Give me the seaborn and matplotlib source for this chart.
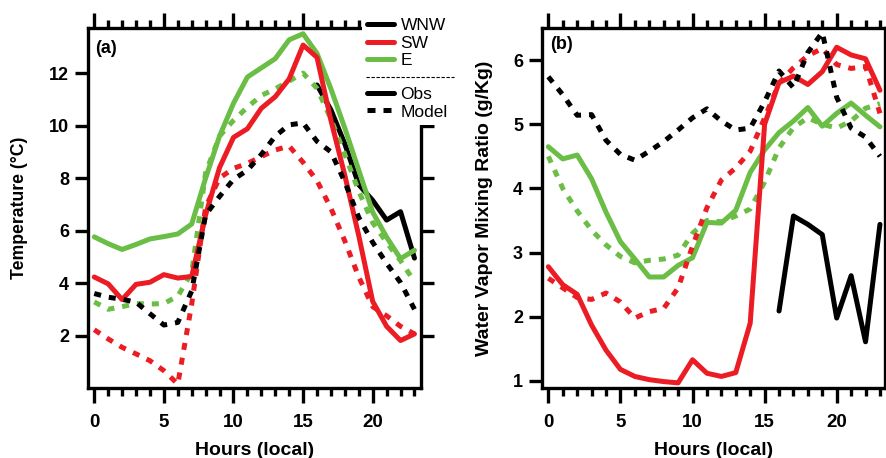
import numpy as np
import pandas as pd
import matplotlib
matplotlib.use("Agg")
import matplotlib.pyplot as plt
from matplotlib.lines import Line2D
from matplotlib.ticker import MultipleLocator
import seaborn as sns

# ---------------------------------------------------------------- data
hours = list(range(24))
wnw_hours = list(range(16, 24))   # WNW observations only exist late in the day

# (a) temperature, deg C
temp_wnw_obs = [11.55, 10.6, 9.3, 7.75, 7.15, 6.4, 6.72, 4.95]
temp_sw_obs = [4.23, 3.97, 3.37, 3.95, 4.03, 4.32, 4.19, 4.25, 6.6, 8.4, 9.55, 9.88,
               10.66, 11.1, 11.78, 13.07, 12.6, 10.2, 8.1, 5.8, 3.3, 2.35, 1.81, 2.06]
temp_e_obs = [5.76, 5.5, 5.28, 5.47, 5.68, 5.77, 5.87, 6.25, 8.0, 9.6, 10.85, 11.85,
              12.2, 12.55, 13.27, 13.5, 12.75, 11.4, 9.9, 8.3, 6.7, 5.75, 4.93, 5.25]
temp_wnw_mod = [3.6, 3.46, 3.38, 3.27, 2.83, 2.4, 2.5, 3.7, 6.6, 7.3, 7.95, 8.3,
                8.9, 9.6, 10.03, 10.1, 9.4, 9.0, 7.85, 6.5, 5.55, 4.75, 4.02, 3.0]
temp_sw_mod = [2.22, 1.87, 1.55, 1.3, 1.04, 0.66, 0.15, 3.2, 6.9, 8.0, 8.37, 8.56,
               8.82, 9.07, 9.22, 8.6, 7.9, 6.85, 5.6, 4.23, 3.1, 2.75, 2.35, 2.06]
temp_e_mod = [3.28, 3.0, 3.1, 3.22, 3.2, 3.22, 3.5, 4.4, 8.2, 9.6, 10.2, 10.7,
              11.15, 11.4, 11.7, 12.0, 11.42, 10.25, 8.9, 7.5, 6.3, 5.55, 4.85, 4.05]

# (b) water vapour mixing ratio, g/kg
wv_wnw_obs = [2.09, 3.57, 3.44, 3.28, 1.98, 2.64, 1.61, 3.44]
wv_sw_obs = [2.78, 2.5, 2.35, 1.87, 1.48, 1.18, 1.07, 1.02, 0.99, 0.97, 1.33, 1.12,
             1.07, 1.13, 1.9, 5.0, 5.65, 5.75, 5.62, 5.82, 6.2, 6.08, 6.02, 5.53]
wv_e_obs = [4.65, 4.46, 4.52, 4.15, 3.63, 3.17, 2.9, 2.62, 2.62, 2.8, 2.92, 3.47,
            3.46, 3.66, 4.25, 4.6, 4.87, 5.05, 5.26, 4.97, 5.17, 5.33, 5.14, 4.96]
wv_wnw_mod = [5.74, 5.46, 5.14, 5.15, 4.75, 4.53, 4.44, 4.58, 4.73, 4.91, 5.1, 5.24,
              5.05, 4.91, 4.94, 5.35, 5.83, 5.57, 6.12, 6.43, 5.42, 4.94, 4.8, 4.5]
wv_sw_mod = [2.6, 2.45, 2.3, 2.27, 2.37, 2.23, 1.98, 2.08, 2.13, 2.45, 3.1, 3.7,
             4.13, 4.32, 4.58, 5.1, 5.64, 5.88, 6.07, 6.18, 5.93, 5.87, 5.9, 5.17]
wv_e_mod = [4.5, 4.0, 3.65, 3.35, 3.12, 2.94, 2.84, 2.88, 2.9, 2.96, 3.3, 3.5,
            3.48, 3.57, 3.68, 4.1, 4.63, 4.95, 5.1, 5.0, 4.94, 5.05, 5.25, 5.32]

temp_ticks = [2, 4, 6, 8, 10, 12]
wv_ticks = [1, 2, 3, 4, 5, 6]

# ---------------------------------------------------------------- styling
sns.set_theme(style="ticks")
plt.rcParams["font.family"] = ["Liberation Sans", "DejaVu Sans"]
plt.rcParams["font.weight"] = "bold"
plt.rcParams["axes.labelweight"] = "bold"
plt.rcParams["text.color"] = "black"
plt.rcParams["axes.labelcolor"] = "black"

colors = {"WNW": "#000000", "SW": "#ec1c24", "E": "#6abd45"}
LW = 3.6
DOTTED = (0, (1.4, 1.6))
styles = {"Obs": "-", "Model": DOTTED}
# drawing order, bottom to top
draw_order = [("WNW", "Obs"), ("E", "Model"), ("E", "Obs"),
              ("SW", "Model"), ("SW", "Obs"), ("WNW", "Model")]


def long_frame(series):
    rows = []
    for (direction, source), (hrs, vals) in series.items():
        for h, v in zip(hrs, vals):
            rows.append({"hour": h, "value": v, "direction": direction, "source": source})
    return pd.DataFrame(rows)


temp_df = long_frame({
    ("WNW", "Obs"): (wnw_hours, temp_wnw_obs),
    ("SW", "Obs"): (hours, temp_sw_obs),
    ("E", "Obs"): (hours, temp_e_obs),
    ("WNW", "Model"): (hours, temp_wnw_mod),
    ("SW", "Model"): (hours, temp_sw_mod),
    ("E", "Model"): (hours, temp_e_mod),
})
wv_df = long_frame({
    ("WNW", "Obs"): (wnw_hours, wv_wnw_obs),
    ("SW", "Obs"): (hours, wv_sw_obs),
    ("E", "Obs"): (hours, wv_e_obs),
    ("WNW", "Model"): (hours, wv_wnw_mod),
    ("SW", "Model"): (hours, wv_sw_mod),
    ("E", "Model"): (hours, wv_e_mod),
})

W, H = 887, 458
fig = plt.figure(figsize=(W / 100, H / 100), dpi=100)
ax_a = fig.add_axes([88 / W, 70 / H, 333 / W, 360 / H])
ax_b = fig.add_axes([541.7 / W, 70 / H, 343.3 / W, 360 / H])


def draw_panel(ax, df):
    for direction, source in draw_order:
        sub = df[(df["direction"] == direction) & (df["source"] == source)]
        sns.lineplot(data=sub, x="hour", y="value", ax=ax, color=colors[direction],
                     linewidth=LW, linestyle=styles[source], estimator=None,
                     sort=True, legend=False)


def style_axes(ax, yticks):
    ax.xaxis.set_major_locator(MultipleLocator(5))
    ax.xaxis.set_minor_locator(MultipleLocator(1))
    ax.set_yticks(yticks)
    ax.tick_params(axis="x", which="major", direction="out", length=10.5, width=2.4,
                   top=True, bottom=True, labeltop=False, pad=8, labelsize=13.5,
                   color="black", labelcolor="black")
    ax.tick_params(axis="x", which="minor", direction="out", length=6, width=2.4,
                   top=True, bottom=True, color="black")
    ax.tick_params(axis="y", which="major", direction="out", length=9.5, width=2.4,
                   left=True, right=True, labelright=False, pad=4, labelsize=13,
                   color="black", labelcolor="black")
    ax.tick_params(axis="y", which="minor", left=False, right=False)
    for sp in ax.spines.values():
        sp.set_visible(True)
        sp.set_linewidth(2.4)
        sp.set_color("black")
    ax.grid(False)
    ax.set_facecolor("white")


draw_panel(ax_a, temp_df)
draw_panel(ax_b, wv_df)
style_axes(ax_a, temp_ticks)
style_axes(ax_b, wv_ticks)

ax_a.set_xlim(-0.45, 23.47)
ax_a.set_ylim(0, 13.72)
ax_b.set_xlim(-0.46, 23.35)
ax_b.set_ylim(0.89, 6.5)

ax_a.set_xlabel("Hours (local)", fontsize=14, fontweight="bold")
ax_b.set_xlabel("Hours (local)", fontsize=14, fontweight="bold")
ax_a.set_ylabel("Temperature (\u00b0C)", fontsize=12.7, fontweight="bold")
ax_b.set_ylabel("Water Vapor Mixing Ratio (g/Kg)", fontsize=14, fontweight="bold")
ax_a.xaxis.set_label_coords(0.5, -0.15)
ax_b.xaxis.set_label_coords(0.5, -0.15)
ax_a.yaxis.set_label_coords(-0.18, 0.5)
ax_b.yaxis.set_label_coords(-0.142, 0.5)

ax_a.text(0.021, 0.944, "(a)", transform=ax_a.transAxes, ha="left", va="center",
          fontsize=13, fontweight="bold")
ax_b.text(0.024, 0.953, "(b)", transform=ax_b.transAxes, ha="left", va="center",
          fontsize=13, fontweight="bold")

# legend: colours for wind sector, line style for data source
handles = [
    Line2D([], [], color=colors["WNW"], lw=LW),
    Line2D([], [], color=colors["SW"], lw=LW),
    Line2D([], [], color=colors["E"], lw=LW),
    Line2D([], [], color="none", lw=0),
    Line2D([], [], color="black", lw=LW),
    Line2D([], [], color="black", lw=LW, linestyle=(0, (1.6, 1.6))),
]
labels = ["WNW", "SW", "E", " ", "Obs", "Model"]
leg = ax_a.legend(handles, labels, loc="upper left",
                  bbox_to_anchor=(362 / W, 1 - 13 / H), bbox_transform=fig.transFigure,
                  frameon=True, facecolor="white", edgecolor="none", framealpha=1,
                  fancybox=False, borderpad=0.3, borderaxespad=0, handlelength=1.53,
                  handletextpad=0.39, labelspacing=0.12,
                  prop={"family": ["Liberation Sans", "DejaVu Sans"],
                        "weight": "normal", "size": 12.5})
leg.set_zorder(10)
for txt in leg.get_texts():
    txt.set_color("black")
fig.add_artist(Line2D([366 / W, 454 / W], [1 - 77 / H, 1 - 77 / H],
                      transform=fig.transFigure, color="black", lw=0.8,
                      linestyle=(0, (3, 1.5)), zorder=20))

fig.savefig("out.png", dpi=100, facecolor="white")
